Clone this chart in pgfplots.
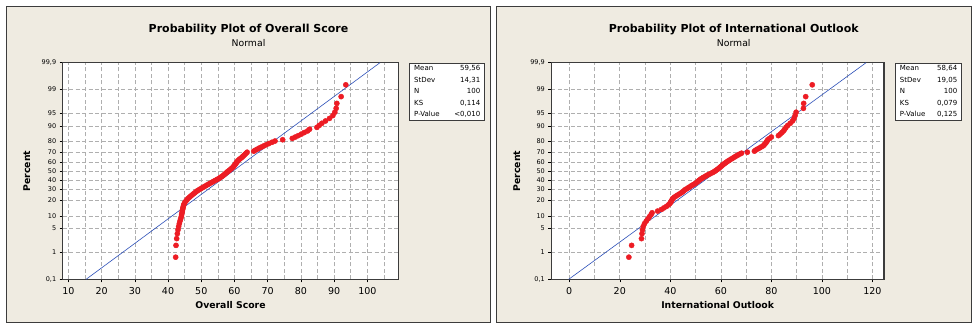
\documentclass[border=0pt]{standalone}
\usepackage{pgfplots}
\pgfplotsset{compat=1.18}
\usepackage{pgfplotstable}
\usepackage{fontspec}
\setmainfont{DejaVu Sans}
\definecolor{panelbg}{RGB}{239,235,225}
\definecolor{ptred}{RGB}{237,28,36}
\definecolor{fitblue}{RGB}{45,80,185}
\definecolor{framec}{RGB}{60,60,60}
\definecolor{gridc}{RGB}{175,175,175}

% z = normal quantile of median rank (i-0.3)/(n+0.4), n=100
\pgfplotstableread{
z os io
-2.459 42.3 23.6
-2.122 42.4 24.7
-1.929 42.6 28.6
-1.788 42.8 28.8
-1.677 43.0 29.0
-1.582 43.2 29.3
-1.501 43.4 29.8
-1.428 43.6 30.5
-1.362 43.8 31.2
-1.301 44.0 31.8
-1.245 44.1 32.4
-1.192 44.2 32.8
-1.143 44.3 35.0
-1.097 44.4 36.5
-1.052 44.5 37.5
-1.009 44.6 38.5
-0.969 44.7 39.2
-0.930 44.9 39.8
-0.892 45.1 40.2
-0.855 45.4 40.4
-0.820 45.7 40.7
-0.785 46.0 41.0
-0.752 46.4 41.5
-0.719 46.8 42.2
-0.687 47.2 42.9
-0.656 47.6 43.6
-0.625 48.0 44.3
-0.595 48.4 44.9
-0.566 48.8 45.4
-0.536 49.3 45.8
-0.508 49.8 46.5
-0.480 50.3 47.1
-0.452 50.8 47.7
-0.424 51.3 48.3
-0.397 51.8 48.9
-0.370 52.3 49.6
-0.344 52.8 50.1
-0.317 53.3 50.6
-0.291 53.8 51.0
-0.265 54.3 51.4
-0.240 54.8 51.9
-0.214 55.3 52.4
-0.188 55.7 53.0
-0.163 56.1 53.6
-0.138 56.5 54.2
-0.113 56.8 54.8
-0.088 57.1 55.5
-0.063 57.4 56.2
-0.038 57.7 56.9
-0.013 58.0 57.5
0.013 58.4 58.0
0.038 58.7 58.5
0.063 59.0 59.0
0.088 59.3 59.4
0.113 59.6 59.8
0.138 59.8 60.2
0.163 60.0 60.6
0.188 60.2 61.0
0.214 60.4 61.5
0.240 60.6 62.0
0.265 60.8 62.5
0.291 61.0 63.0
0.317 61.3 63.6
0.344 61.6 64.2
0.370 62.0 64.8
0.397 62.3 65.4
0.424 62.6 66.0
0.452 62.9 66.7
0.480 63.2 67.4
0.508 63.5 68.2
0.536 63.8 70.5
0.566 65.8 73.3
0.595 66.3 73.8
0.625 66.9 74.5
0.656 67.5 75.3
0.687 68.2 76.0
0.719 68.9 76.8
0.752 69.6 77.2
0.785 70.4 77.6
0.820 71.3 78.0
0.855 72.2 78.3
0.892 74.5 78.6
0.930 77.4 79.3
0.969 78.3 80.0
1.009 79.2 82.8
1.052 80.1 83.5
1.097 81.0 84.2
1.143 82.0 84.8
1.192 82.6 85.3
1.245 84.8 85.8
1.301 85.5 86.5
1.362 86.3 87.5
1.428 87.4 88.4
1.501 88.6 89.0
1.582 89.6 89.4
1.677 90.2 89.8
1.788 90.6 92.7
1.929 90.8 92.8
2.122 92.1 93.6
2.459 93.5 96.2
}\probdata

\pgfplotsset{
  probplot/.style={
    scale only axis,
    anchor=south west,
    height=216.6pt,
    ymin=-3.0902, ymax=3.0902,
    ytick={-3.0902,-2.3263,-1.6449,-1.2816,-0.8416,-0.5244,-0.2533,0,0.2533,0.5244,0.8416,1.2816,1.6449,2.3263,3.0902},
    yticklabels={{0,1},1,5,10,20,30,40,50,60,70,80,90,95,99,{99,9}},
    axis background/.style={fill=white},
    axis line style={framec, line width=1.1pt},
    tick align=outside,
    major tick length=3pt,
    minor tick length=0pt,
    tick style={black, line width=0.5pt},
    xtick pos=bottom, ytick pos=left,
    grid=both,
    major grid style={gridc, dash pattern=on 4pt off 2.5pt, line width=0.6pt},
    minor grid style={gridc, dash pattern=on 4pt off 2.5pt, line width=0.6pt},
    /pgf/number format/assume math mode=true,
    xticklabel style={font=\fontsize{9.5}{10}\selectfont, yshift=-1.5pt},
    yticklabel style={font=\fontsize{6.5}{7}\selectfont},
    xlabel style={font=\bfseries\fontsize{9.3}{10}\selectfont, at={(axis description cs:0.5,-0.119)}, anchor=center},
    ylabel style={font=\bfseries\fontsize{9.3}{10}\selectfont, anchor=center},
    ylabel={Percent},
    clip=true,
  }
}

\begin{document}
\begin{tikzpicture}[x=1pt,y=1pt]
\fill[white] (0,0) rectangle (973,325);
\filldraw[fill=panelbg, draw=framec, line width=1.2pt] (6.5,2.5) rectangle (490.5,318.5);
\filldraw[fill=panelbg, draw=framec, line width=1.2pt] (496.5,2.5) rectangle (971.5,318.5);

% Left panel
\node[font=\bfseries\fontsize{11}{13}\selectfont] at (248.5,295.3) {Probability Plot of Overall Score};
\node[font=\fontsize{9.3}{11}\selectfont] at (248.5,281.7) {Normal};
\begin{axis}[probplot, at={(62.7pt,45.7pt)}, width=335.6pt,
  xmin=8.3, xmax=109.3,
  xtick={10,20,...,100}, minor xtick={15,25,...,105},
  xlabel={Overall Score},
  ylabel style={at={(axis description cs:-0.107,0.5)}}]
\addplot[fitblue, line width=0.6pt] coordinates {(15.34,-3.0902) (103.78,3.0902)};
\addplot[only marks, mark=*, mark size=2.6pt, mark options={fill=ptred, draw=ptred}] table[x=os, y=z] {\probdata};
\end{axis}
\node[draw=framec, line width=0.8pt, fill=white, anchor=north west, text width=66pt, inner xsep=4.5pt, inner ysep=2.5pt, align=left, font=\fontsize{7}{11.5}\selectfont] at (409.3,262.3)
{Mean\hfill 59,56\\StDev\hfill 14,31\\N\hfill 100\\KS\hfill 0,114\\P-Value\hfill <0,010};

% Right panel
\node[font=\bfseries\fontsize{11}{13}\selectfont] at (733.7,295.3) {Probability Plot of International Outlook};
\node[font=\fontsize{9.3}{11}\selectfont] at (733.7,281.7) {Normal};
\begin{axis}[probplot, at={(551.3pt,45.7pt)}, width=332.7pt,
  xmin=-7.1, xmax=124.6,
  xtick={0,20,...,120}, minor xtick={10,30,...,110},
  xlabel={International Outlook},
  ylabel style={at={(axis description cs:-0.104,0.5)}}]
\addplot[fitblue, line width=0.6pt] coordinates {(-0.22,-3.0902) (117.5,3.0902)};
\addplot[only marks, mark=*, mark size=2.6pt, mark options={fill=ptred, draw=ptred}] table[x=io, y=z] {\probdata};
\end{axis}
\node[draw=framec, line width=0.8pt, fill=white, anchor=north west, text width=57.3pt, inner xsep=4.5pt, inner ysep=2.5pt, align=left, font=\fontsize{7}{11.5}\selectfont] at (895,262.3)
{Mean\hfill 58,64\\StDev\hfill 19,05\\N\hfill 100\\KS\hfill 0,079\\P-Value\hfill 0,125};
\end{tikzpicture}
\end{document}
